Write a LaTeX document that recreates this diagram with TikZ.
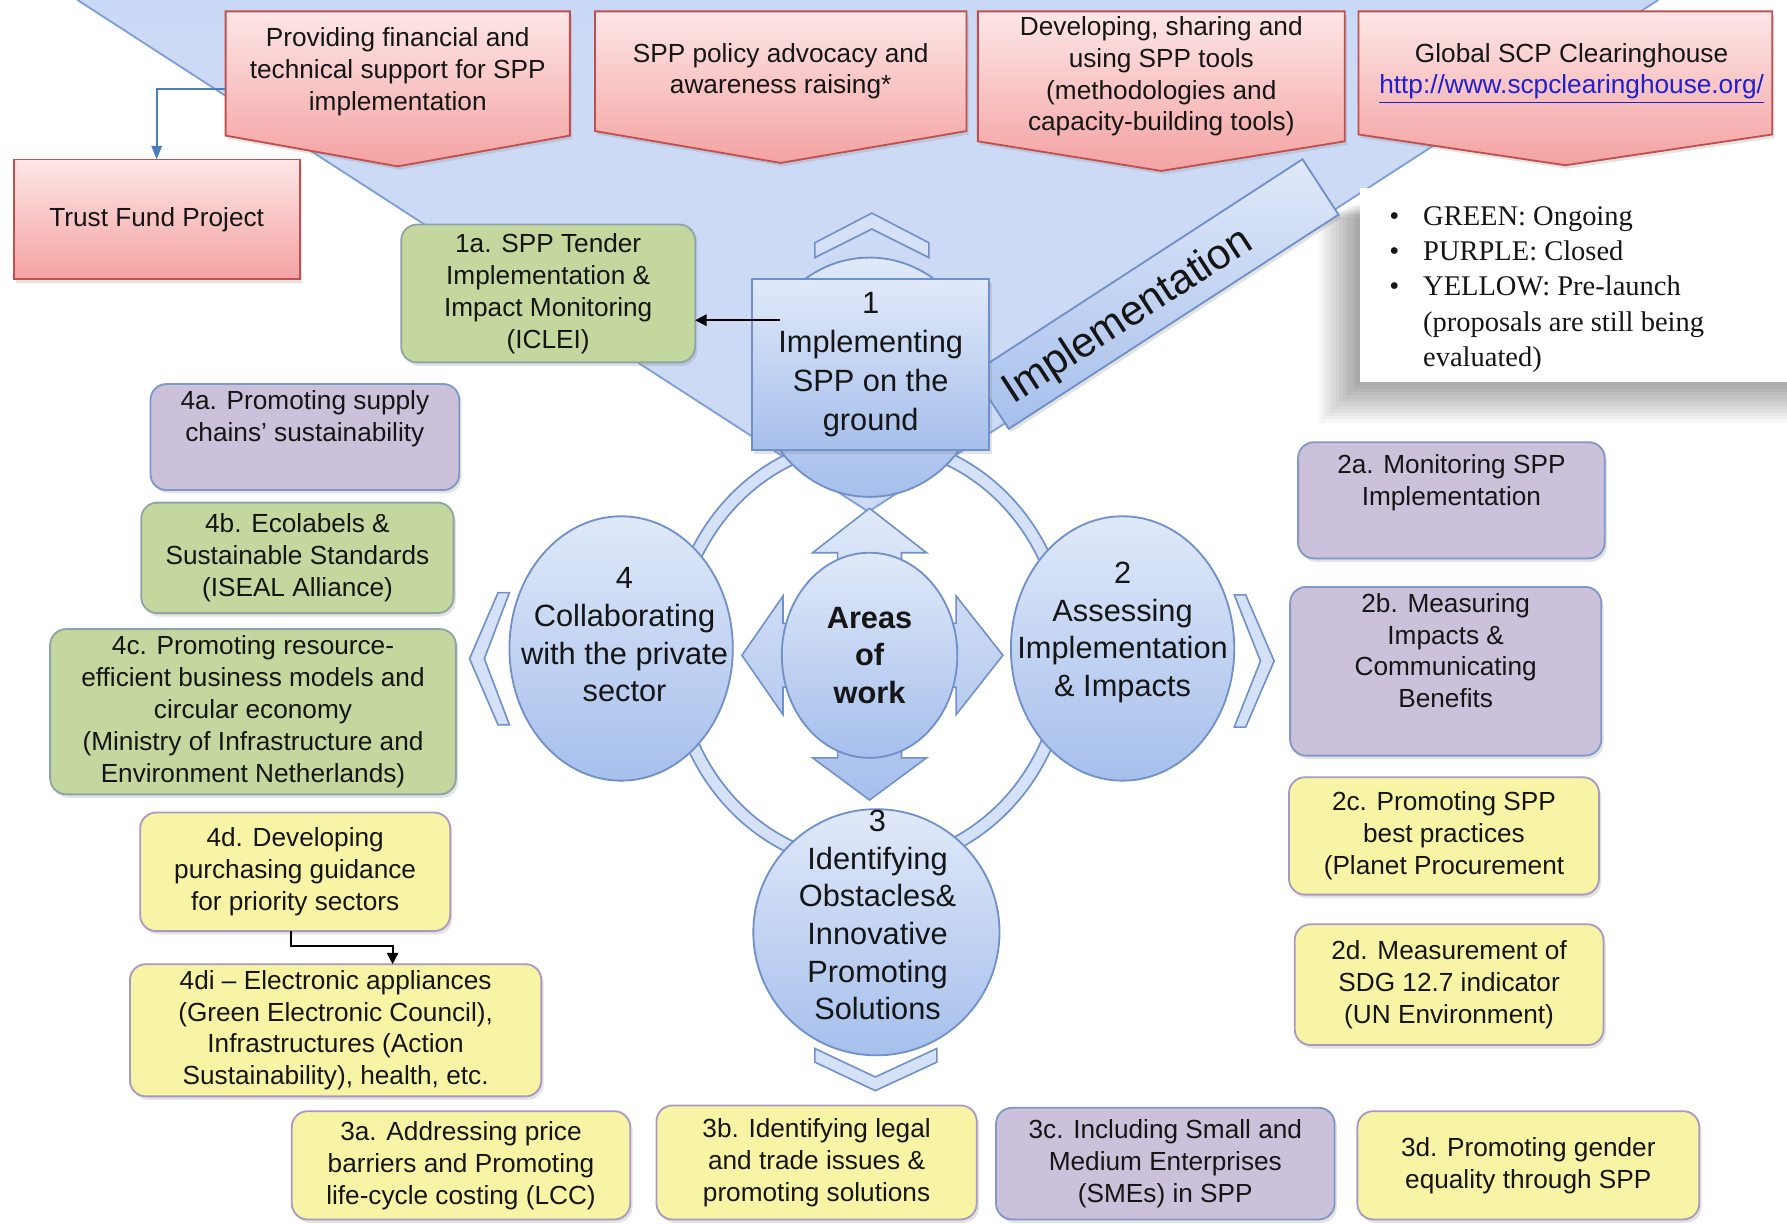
\documentclass[tikz,border=0pt]{standalone}
\usepackage{fontspec}
\setmainfont{Liberation Sans}
\newfontfamily\legfont{Liberation Serif}
\usetikzlibrary{arrows.meta,shadows,shapes.geometric}

\definecolor{triL}{HTML}{CCDAF6}
\definecolor{triD}{HTML}{A3BDEE}
\definecolor{triE}{HTML}{7E9ED6}
\definecolor{pinkT}{HTML}{FDE6E6}
\definecolor{pinkB}{HTML}{F4A2A2}
\definecolor{pinkE}{HTML}{C0504D}
\definecolor{gFill}{HTML}{C4D79E}
\definecolor{gEdge}{HTML}{8DA5A6}
\definecolor{pFill}{HTML}{CCC1DA}
\definecolor{pEdge}{HTML}{7F98C8}
\definecolor{yFill}{HTML}{F7F5A5}
\definecolor{yEdge}{HTML}{A999C0}
\definecolor{cT}{HTML}{E0E9F9}
\definecolor{cB}{HTML}{A6BFEC}
\definecolor{cE}{HTML}{6F90C9}
\definecolor{ringF}{HTML}{D5E1F7}
\definecolor{tfBlue}{HTML}{4A7EBB}
\definecolor{urlC}{HTML}{1F1FD0}
\definecolor{txt}{HTML}{151515}

\pgfdeclareverticalshading{tri}{100bp}{color(0bp)=(triL); color(72bp)=(triL); color(100bp)=(triD)}

\tikzset{
  every node/.style={inner sep=0pt, outer sep=0pt, text=txt},
  shd/.style={drop shadow={shadow xshift=1pt, shadow yshift=-1.5pt, opacity=0.22}},
  boxbase/.style={draw, rounded corners=7pt, line width=0.8pt, align=center,
     font=\fontsize{11.5}{14}\selectfont, shd},
  gbox/.style={boxbase, fill=gFill, draw=gEdge},
  pbox/.style={boxbase, fill=pFill, draw=pEdge},
  ybox/.style={boxbase, fill=yFill, draw=yEdge},
  pinkrect/.style={draw=pinkE, line width=0.8pt, top color=pinkT, bottom color=pinkB,
     align=center, font=\fontsize{11.5}{14}\selectfont, shd},
  pinkpoly/.style={draw=pinkE, line width=0.8pt, top color=pinkT, bottom color=pinkB, shd},
  pinktext/.style={align=center, font=\fontsize{11.5}{14}\selectfont},
  bluerect/.style={draw=cE, line width=0.8pt, top color=cT, bottom color=cB,
     align=center, font=\fontsize{13.5}{17}\selectfont, shd},
  circ/.style={ellipse, draw=cE, line width=0.8pt, top color=cT, bottom color=cB},
  ctext/.style={align=center, font=\fontsize{13.5}{16.5}\selectfont},
  chev/.style={fill=ringF, draw=cE, line width=0.7pt, line join=miter},
  arrowsty/.style={top color=cT, bottom color=cB, draw=cE, line width=0.7pt, line join=miter},
  banner/.style={draw=cE, line width=0.8pt, top color=cT, bottom color=cB, rectangle, shd},
  bannertext/.style={font=\fontsize{18.5}{20}\selectfont},
  conn/.style={draw=black, line width=0.9pt, -{Triangle[length=5pt,width=5pt]}},
  tfconn/.style={draw=tfBlue, line width=1pt, -{Triangle[length=6pt,width=4.5pt]}},
}

\newcommand\mybox[7]{\node[#2, minimum width={(#5-#3)*0.5pt}, minimum height={(#6-#4)*0.5pt}] (#1) at ({(#3+#5)/2},{(#4+#6)/2}) {#7};}
\newcommand\pent[4]{\path[pinkpoly] (#1,10) -- (#2,10) -- (#2,#3) -- ({(#1+#2)/2},#4) -- (#1,#3) -- cycle;}

\begin{document}
\begin{tikzpicture}[x=0.5pt,y=-0.5pt]
\path[use as bounding box, fill=white] (0,0) rectangle (1568,1074);

% big inverted triangle
\fill[shading=tri] (68,0) -- (1455,0) -- (762,449) -- cycle;
\draw[triE, line width=0.8pt] (68,0) -- (762,449) -- (1455,0);

% legend with soft shadow
\foreach \i in {1,...,12}{
  \fill[black, opacity=0.03] ({1193-3*\i},{178+\i}) rectangle (1568,{335+3*\i});
}
\node[fill=white, minimum width={(1568-1193)*0.5pt}, minimum height={(335-165)*0.5pt}] (legbox) at ({(1193+1568)/2},{(165+335)/2}) {};
\node[anchor=west, font=\legfont\fontsize{12.5}{15.5}\selectfont] (legend) at (1219,253.5) {%
  \begin{tabular}{@{}l@{\hspace{10.5pt}}l@{}}
  \textbullet & GREEN: Ongoing\\
  \textbullet & PURPLE: Closed\\
  \textbullet & YELLOW: Pre-launch\\
   & (proposals are still being\\
   & evaluated)
  \end{tabular}};

% pink pentagons
\pent{198}{500}{119}{146}
\pent{522}{848}{115}{143}
\pent{858}{1180}{124}{150}
\pent{1192}{1555}{118}{145}
\node[pinktext] (p1) at (349,63) {Providing financial and\\technical support for SPP\\implementation};
\node[pinktext] (p2) at (685,62.5) {SPP policy advocacy and\\awareness raising*};
\node[pinktext] (p3) at (1019,67) {Developing, sharing and\\using SPP tools\\(methodologies and\\capacity-building tools)};
\node[pinktext] (p4) at (1379,64.5) {Global SCP Clearinghouse\\\textcolor{urlC}{\underline{http://www.scpclearinghouse.org/}}};
\coordinate (p1w) at (198,78);

% trust fund
\mybox{tf}{pinkrect}{12}{140}{263}{245}{Trust Fund Project}
\draw[tfconn] (p1w) -| (tf.north);

% ring
\draw[cE, line width=6.2pt] (763,573) ellipse [x radius=86pt, y radius=93pt];
\draw[ringF, line width=4.6pt] (763,573) ellipse [x radius=86pt, y radius=93pt];

% chevrons
\path[chev] (715,213) -- (765,187) -- (815,213) -- (815,226) -- (765,201) -- (715,226) -- cycle;
\path[chev] (715,920) -- (768,945) -- (822,920) -- (822,932) -- (768,957) -- (715,932) -- cycle;
\path[chev] (437,520) -- (447,520) -- (425,578) -- (447,636) -- (437,636) -- (412,578) -- cycle;
\path[chev] (1083,522) -- (1093,522) -- (1118,580) -- (1093,638) -- (1083,638) -- (1106,580) -- cycle;

% circle 1, banner, box 1
\node[circ, minimum width=99pt, minimum height=105pt] (c1) at (763,331) {};
\node[banner, rotate=33, minimum width=172.5pt, minimum height=29pt] (impl) at (1014,258) {};
\node[bannertext, rotate=33] (impltext) at (990,278) {Implementation};
\mybox{b1}{bluerect}{660}{245}{868}{395}{1\\Implementing\\SPP on the\\ground}

% 1a
\mybox{a1}{gbox}{352}{197}{610}{318}{1a. SPP Tender\\Implementation \&\\Impact Monitoring\\(ICLEI)}
\draw[conn] ([xshift=12pt,yshift=19.5pt]b1.west) coordinate (s1) -- (s1 -| a1.east);

% circles 4, 2, 3
\node[circ, minimum width=98pt, minimum height=116pt] (c4) at (545,569) {};
\node[circ, minimum width=98pt, minimum height=116pt] (c2) at (985,569) {};
\node[circ, minimum width=108pt, minimum height=108pt] (c3) at (769,818) {};

% four-way arrow
\begin{scope}[shift={(763,575)}]
\path[arrowsty] (-28,-90) -- (-50,-90) -- (0,-129) -- (50,-90) -- (28,-90) -- (28,-28)
  -- (76,-28) -- (76,-52) -- (117,0) -- (76,52) -- (76,28) -- (28,28)
  -- (28,90) -- (50,90) -- (0,127) -- (-50,90) -- (-28,90) -- (-28,28)
  -- (-76,28) -- (-76,52) -- (-112,0) -- (-76,-52) -- (-76,-28) -- (-28,-28) -- cycle;
\end{scope}
\node[circ, minimum width=77pt, minimum height=90pt] (c0) at (763,575) {};

\node[ctext] (t4) at (548,557) {4\\Collaborating\\with the private\\sector};
\node[ctext] (t2) at (985,555) {2\\Assessing\\Implementation\\\& Impacts};
\node[ctext, font=\fontsize{13.5}{16.5}\selectfont\bfseries] (t0) at (763,575) {Areas\\of\\work};
\node[ctext] (t3) at (770,803) {3\\Identifying\\Obstacles\&\\Innovative\\Promoting\\Solutions};

% left boxes
\mybox{b4a}{pbox}{132}{337}{403}{430}{4a. Promoting supply\\chains' sustainability\\\strut}
\mybox{b4b}{gbox}{124}{441}{398}{538}{4b. Ecolabels \&\\Sustainable Standards\\(ISEAL Alliance)}
\mybox{b4c}{gbox}{44}{552}{400}{697}{4c. Promoting resource-\\efficient business models and\\circular economy\\(Ministry of Infrastructure  and\\Environment  Netherlands)}
\mybox{b4d}{ybox}{123}{713}{395}{817}{4d. Developing\\purchasing guidance\\for priority sectors}
\mybox{b4di}{ybox}{114}{846}{475}{962}{4di – Electronic appliances\\(Green  Electronic Council),\\Infrastructures  (Action\\Sustainability), health, etc.}
\draw[conn] ([xshift=-2pt]b4d.south) -- ++(0,13) -| ([xshift=25pt]b4di.north);

% right boxes
\mybox{b2a}{pbox}{1139}{388}{1408}{490}{2a. Monitoring SPP\\Implementation\\\strut}
\mybox{b2b}{pbox}{1132}{515}{1405}{663}{2b. Measuring\\Impacts \&\\Communicating\\Benefits\\\strut}
\mybox{b2c}{ybox}{1131}{682}{1403}{785}{2c. Promoting SPP\\best practices\\(Planet Procurement}
\mybox{b2d}{ybox}{1136}{811}{1407}{917}{2d. Measurement  of\\SDG 12.7 indicator\\(UN Environment)}

% bottom boxes
\mybox{b3a}{ybox}{256}{975}{553}{1070}{3a. Addressing price\\barriers  and Promoting\\life-cycle costing (LCC)}
\mybox{b3b}{ybox}{576}{970}{857}{1070}{3b. Identifying legal\\and trade issues \&\\promoting solutions}
\mybox{b3c}{pbox}{874}{972}{1171}{1070}{3c. Including Small and\\Medium Enterprises\\(SMEs) in SPP}
\mybox{b3d}{ybox}{1191}{975}{1491}{1070}{3d. Promoting gender\\equality through SPP}
\end{tikzpicture}
\end{document}
